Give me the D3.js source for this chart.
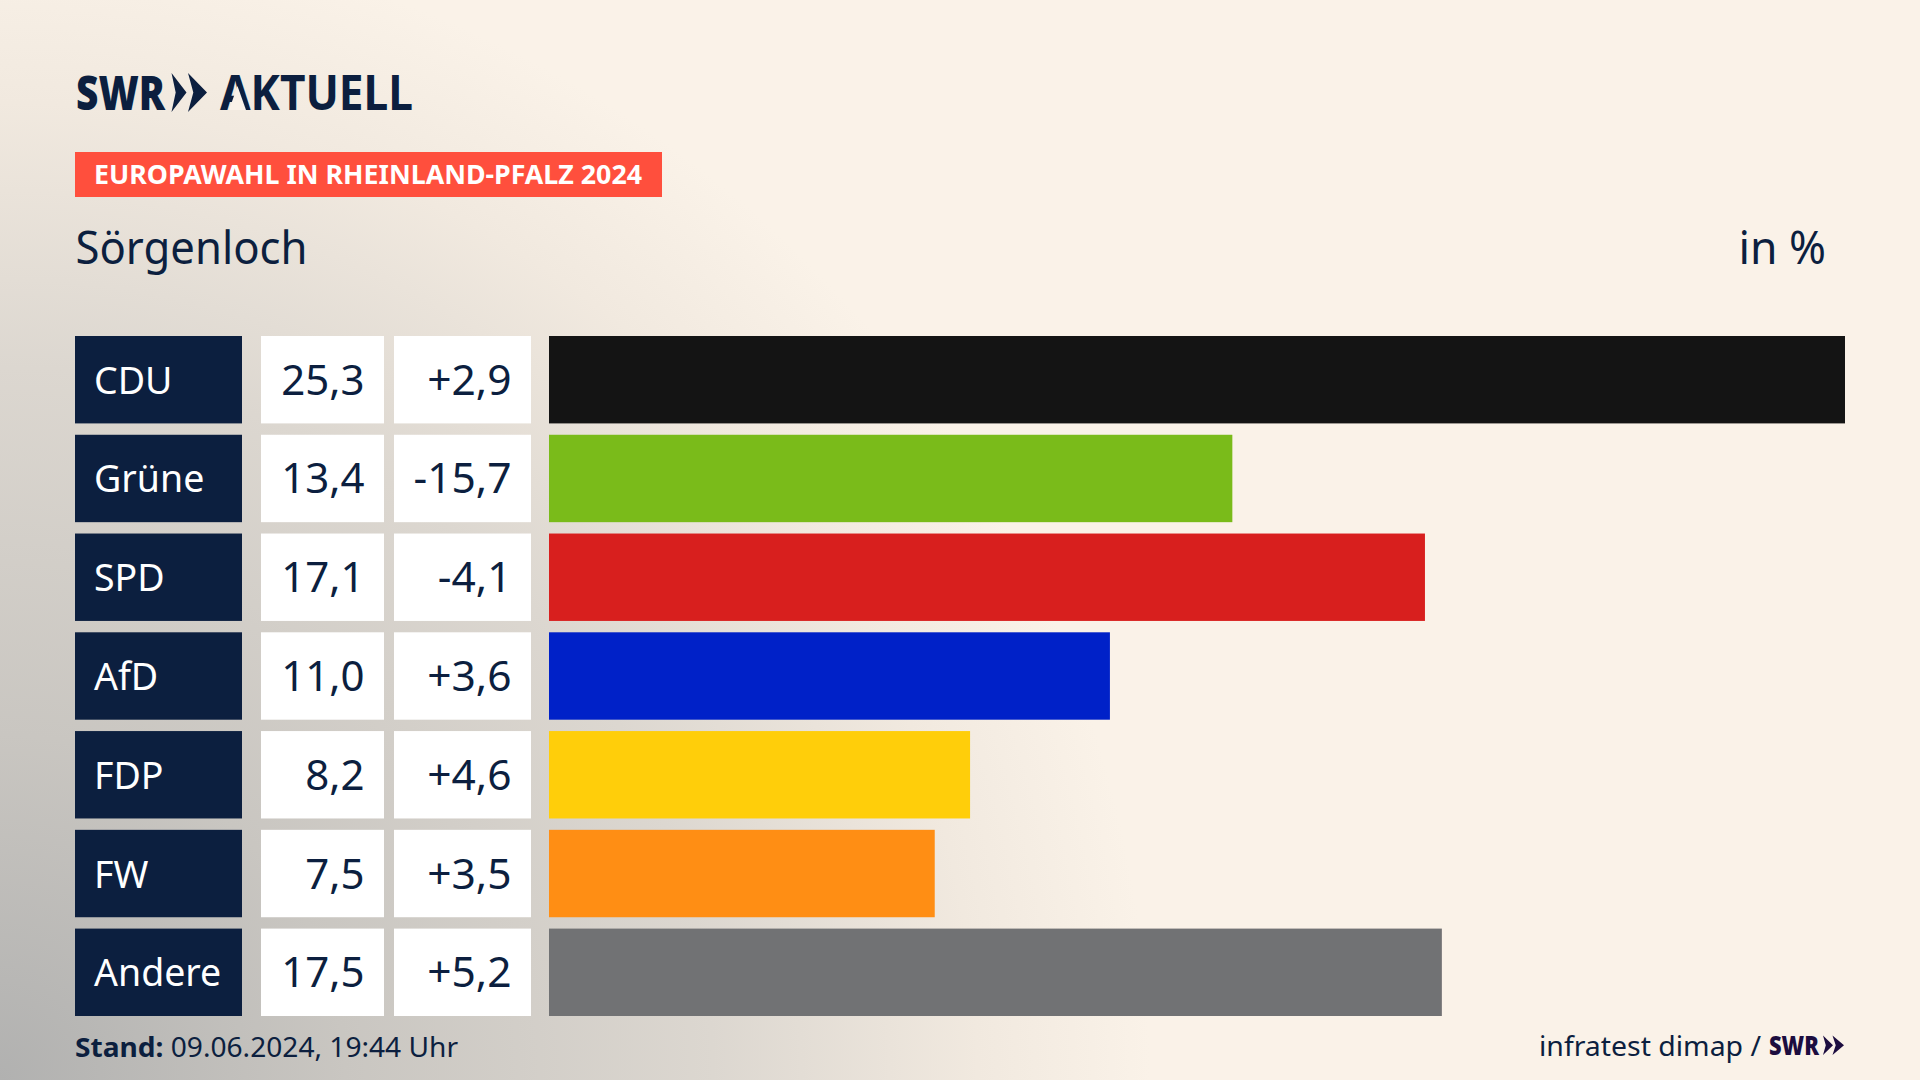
<!doctype html>
<html lang="de">
<head>
  <meta charset="utf-8">
  <title>Europawahl in Rheinland-Pfalz 2024 - Sörgenloch</title>
  <script src="https://d3js.org/d3.v7.min.js"></script>
  <style>
    html, body { margin: 0; padding: 0; background: #faf2e8; }
    svg { display: block; }
    text { font-family: "Noto Sans", sans-serif; }
  </style>
</head>
<body>
  <svg id="chart" width="1920" height="1080"></svg>
  <script>
    const parties = ["CDU", "Grüne", "SPD", "AfD", "FDP", "FW", "Andere"];
    const shares = [25.3, 13.4, 17.1, 11.0, 8.2, 7.5, 17.5];
    const changes = [2.9, -15.7, -4.1, 3.6, 4.6, 3.5, 5.2];
    // the drawn bars are a little off the printed numbers in the original
    const barLengths = [25.3, 13.34, 17.1, 10.95, 8.22, 7.53, 17.43];
    const partyColors = ["#141414", "#7abb1a", "#d81f1e", "#0021c8", "#ffce0a", "#ff8e14", "#717274"];

    const navy = "#0c1f3f";
    const cream = "#faf2e8";
    const comma = s => s.replace(".", ",");
    const fmtShare = d => comma(d3.format(".1f")(d));
    const fmtChange = d => comma(d3.format("+.1f")(d)).replace("−", "-");

    const svg = d3.select("#chart");

    // background: cream with a grey glow from the bottom left corner
    const grad = svg.append("defs").append("radialGradient")
      .attr("id", "glow")
      .attr("gradientUnits", "userSpaceOnUse")
      .attr("cx", 0).attr("cy", 1080).attr("r", 1150);
    grad.selectAll("stop")
      .data([[0, "#b1b1b0"], [0.3, "#c9c6c1"], [0.62, "#dcd7d0"], [0.85, "#f1e9df"], [1, cream]])
      .enter().append("stop")
      .attr("offset", d => d[0])
      .attr("stop-color", d => d[1]);
    svg.append("rect").attr("width", 1920).attr("height", 1080).attr("fill", "url(#glow)");

    const x = d3.scaleLinear().domain([0, 25.3]).range([549, 1845]);
    const y = d3.scaleBand().domain(parties).range([336, 1016]).paddingInner(0.115);

    const rows = svg.selectAll("g.row")
      .data(parties)
      .enter().append("g")
      .attr("class", "row")
      .attr("transform", d => `translate(0,${y(d)})`);
    const h = y.bandwidth();

    rows.append("rect").attr("x", 75).attr("width", 167).attr("height", h).attr("fill", navy);
    rows.append("rect").attr("x", 261).attr("width", 123).attr("height", h).attr("fill", "#fff");
    rows.append("rect").attr("x", 394).attr("width", 137).attr("height", h).attr("fill", "#fff");
    rows.append("rect")
      .attr("x", x(0))
      .attr("width", (d, i) => x(barLengths[i]) - x(0))
      .attr("height", h)
      .attr("fill", (d, i) => partyColors[i]);

    rows.append("text")
      .attr("x", 94).attr("y", h / 2 + 14)
      .attr("font-size", 37.5).attr("fill", "#fff")
      .text(d => d);
    rows.append("text")
      .attr("x", 364.5).attr("y", h / 2 + 15)
      .attr("font-size", 42).attr("fill", navy).attr("text-anchor", "end")
      .text((d, i) => fmtShare(shares[i]));
    rows.append("text")
      .attr("x", 511.5).attr("y", h / 2 + 15)
      .attr("font-size", 42.5).attr("fill", navy).attr("text-anchor", "end")
      .text((d, i) => fmtChange(changes[i]));

    // one dart of the SWR logo chevrons
    function dart(x0, w, y0, y1, color) {
      const p = d3.path();
      p.moveTo(x0, y0);
      p.lineTo(x0 + w, (y0 + y1) / 2);
      p.lineTo(x0, y1);
      p.lineTo(x0 + w * 0.28, (y0 + y1) / 2);
      p.closePath();
      svg.append("path").attr("d", p.toString()).attr("fill", color);
    }

    // header
    svg.append("text").attr("x", 76).attr("y", 109.5)
      .attr("font-size", 48).attr("font-weight", 900).attr("fill", navy)
      .attr("textLength", 89).attr("lengthAdjust", "spacingAndGlyphs")
      .text("SWR");
    dart(171.5, 15, 73, 112, navy);
    dart(188, 19, 73, 112, navy);
    svg.append("text").attr("x", 220).attr("y", 109.5)
      .attr("font-size", 48).attr("font-weight", 700).attr("fill", navy)
      .attr("textLength", 193).attr("lengthAdjust", "spacingAndGlyphs")
      .text("AKTUELL");
    // the logo's A has no crossbar
    svg.append("path")
      .attr("d", d3.line()([[237.5, 86], [229, 110], [246, 110]]) + "Z")
      .attr("fill", cream);

    svg.append("rect").attr("x", 75).attr("y", 152).attr("width", 587).attr("height", 45).attr("fill", "#ff4f3d");
    svg.append("text").attr("x", 94).attr("y", 184)
      .attr("font-size", 27).attr("font-weight", 700).attr("fill", "#fff")
      .attr("textLength", 548).attr("lengthAdjust", "spacingAndGlyphs")
      .text("EUROPAWAHL IN RHEINLAND-PFALZ 2024");

    svg.append("text").attr("x", 75.5).attr("y", 264)
      .attr("font-size", 45).attr("fill", navy)
      .attr("textLength", 232).attr("lengthAdjust", "spacingAndGlyphs")
      .text("Sörgenloch");
    svg.append("text").attr("x", 1738.5).attr("y", 264)
      .attr("font-size", 45).attr("fill", navy)
      .attr("textLength", 87.5).attr("lengthAdjust", "spacingAndGlyphs")
      .text("in %");

    // footer
    const stand = svg.append("text").attr("x", 75).attr("y", 1056.5)
      .attr("font-size", 27).attr("fill", navy)
      .attr("textLength", 383).attr("lengthAdjust", "spacingAndGlyphs");
    stand.append("tspan").attr("font-weight", 700).text("Stand:");
    stand.append("tspan").text(" 09.06.2024, 19:44 Uhr");

    svg.append("text").attr("x", 1539).attr("y", 1055.5)
      .attr("font-size", 28).attr("fill", navy)
      .attr("textLength", 222).attr("lengthAdjust", "spacingAndGlyphs")
      .text("infratest dimap /");
    svg.append("text").attr("x", 1769).attr("y", 1054.5)
      .attr("font-size", 27).attr("font-weight", 900).attr("fill", "#1c0d3f")
      .attr("textLength", 50).attr("lengthAdjust", "spacingAndGlyphs")
      .text("SWR");
    dart(1823, 10, 1035.5, 1055, "#1c0d3f");
    dart(1832.5, 11.5, 1035.5, 1055, "#1c0d3f");
  </script>
</body>
</html>
